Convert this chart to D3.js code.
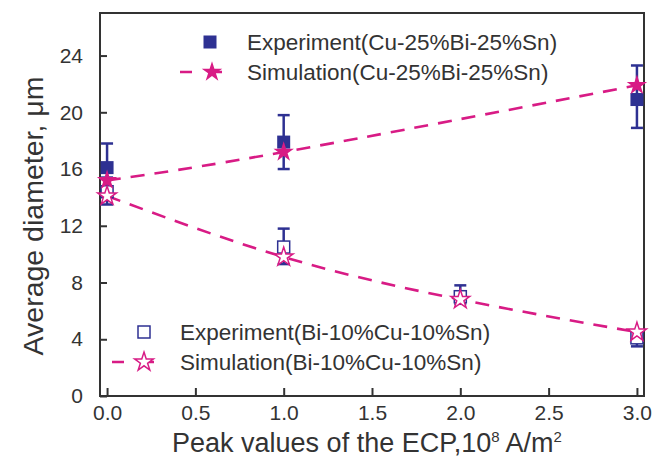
<!DOCTYPE html>
<html>
<head>
<meta charset="utf-8">
<script src="https://cdn.jsdelivr.net/npm/d3@7"></script>
<style>
  body { margin: 0; background: #fff; }
  text { font-family: "Liberation Sans", Arial, sans-serif; fill: #333; }
</style>
</head>
<body>
<script>
// data
const xTicks = [0, 0.5, 1, 1.5, 2, 2.5, 3];
const yTicks = [0, 4, 8, 12, 16, 20, 24];

const expCuX = [0, 1, 3];
const expCuY = [16.1, 17.9, 20.9];
const expCuHi = [17.8, 19.8, 23.3];
const expCuLo = [14.5, 16.0, 18.9];

const simCuX = [0, 1, 3];
const simCuY = [15.2, 17.2, 21.9];

const expBiX = [0, 1, 2, 3];
const expBiY = [14.4, 10.5, 7.0, 4.1];
const expBiHi = [15.4, 11.8, 7.8, 4.6];
const expBiLo = [13.5, 9.3, 6.5, 3.5];

const simBiX = [0, 1, 2, 3];
const simBiY = [14.1, 9.8, 6.8, 4.5];

const legendLabels = ["Experiment(Cu-25%Bi-25%Sn)", "Simulation(Cu-25%Bi-25%Sn)",
                      "Experiment(Bi-10%Cu-10%Sn)", "Simulation(Bi-10%Cu-10%Sn)"];

const navy = "#2e3192";
const pink = "#d81b85";

var w = 654, h = 460;
const svg = d3.select("body").append("svg").attr("width", w).attr("height", h);

const xScale = d3.scaleLinear().domain([-0.04, 3.04]).range([100, 644]);
const yScale = d3.scaleLinear().domain([0, 27]).range([396, 13]);

// frame
svg.append("rect")
  .attr("x", 100).attr("y", 13).attr("width", 544).attr("height", 383)
  .attr("fill", "none").attr("stroke", "#333").attr("stroke-width", 2);

// axes (inward ticks)
const xAxis = svg.append("g").attr("transform", "translate(0,396)")
  .call(d3.axisBottom(xScale).tickValues(xTicks).tickSize(-8).tickSizeOuter(0)
    .tickFormat(d3.format(".1f")).tickPadding(9));
const yAxis = svg.append("g").attr("transform", "translate(100,0)")
  .call(d3.axisLeft(yScale).tickValues(yTicks).tickSize(-7).tickSizeOuter(0).tickPadding(17));
[xAxis, yAxis].forEach(a => {
  a.select(".domain").remove();
  a.selectAll("line").attr("stroke", "#333").attr("stroke-width", 2);
  a.selectAll("text").style("font-size", "21px").attr("fill", "#333")
    .style("font-family", "Liberation Sans, Arial, sans-serif");
});

// axis titles
const xt = svg.append("text").attr("x", 367).attr("y", 452).attr("text-anchor", "middle")
  .style("font-size", "27px");
xt.append("tspan").text("Peak values of the ECP,10");
xt.append("tspan").attr("dy", -10).style("font-size", "15px").text("8");
xt.append("tspan").attr("dy", 10).text(" A/m");
xt.append("tspan").attr("dy", -10).style("font-size", "15px").text("2");

svg.append("text").attr("transform", "translate(43,216) rotate(-90)")
  .attr("text-anchor", "middle").style("font-size", "28.5px")
  .text("Average diameter, \u03bcm");

const star = d3.symbol().type(d3.symbolStar);

// dashed simulation curves
const line = d3.line().x(d => xScale(d[0])).y(d => yScale(d[1])).curve(d3.curveNatural);
[[simCuX, simCuY], [simBiX, simBiY]].forEach(([xs, ys]) => {
  svg.append("path").datum(xs.map((x, i) => [x, ys[i]]))
    .attr("d", line).attr("fill", "none").attr("stroke", pink)
    .attr("stroke-width", 2.6).attr("stroke-dasharray", "14,10");
});

// error bars
function errBars(xs, hi, lo) {
  const g = svg.append("g").attr("stroke", navy).attr("stroke-width", 2.5);
  xs.forEach((x, i) => {
    const cx = xScale(x);
    g.append("line").attr("x1", cx).attr("x2", cx).attr("y1", yScale(hi[i])).attr("y2", yScale(lo[i]));
    g.append("line").attr("x1", cx - 6).attr("x2", cx + 6).attr("y1", yScale(hi[i])).attr("y2", yScale(hi[i]));
    g.append("line").attr("x1", cx - 6).attr("x2", cx + 6).attr("y1", yScale(lo[i])).attr("y2", yScale(lo[i]));
  });
}
errBars(expBiX, expBiHi, expBiLo);
errBars(expCuX, expCuHi, expCuLo);

// open squares
svg.selectAll(".osq").data(expBiX).enter().append("rect")
  .attr("x", (d) => xScale(d) - 6).attr("y", (d, i) => yScale(expBiY[i]) - 6)
  .attr("width", 12).attr("height", 12)
  .attr("fill", "#fff").attr("stroke", navy).attr("stroke-width", 1.5);
// filled squares
svg.selectAll(".fsq").data(expCuX).enter().append("rect")
  .attr("x", (d) => xScale(d) - 6.5).attr("y", (d, i) => yScale(expCuY[i]) - 6.5)
  .attr("width", 13).attr("height", 13).attr("fill", navy);

// stars
svg.selectAll(".ostar").data(simBiX).enter().append("path")
  .attr("d", star.size(110)())
  .attr("transform", (d, i) => "translate(" + xScale(d) + "," + yScale(simBiY[i]) + ")")
  .attr("fill", "#fff").attr("stroke", pink).attr("stroke-width", 1.5);
svg.selectAll(".fstar").data(simCuX).enter().append("path")
  .attr("d", star.size(130)())
  .attr("transform", (d, i) => "translate(" + xScale(d) + "," + yScale(simCuY[i]) + ")")
  .attr("fill", pink);

// legends
function legendRow(mx, y, textX, label, kind) {
  if (kind === "fsq") {
    svg.append("rect").attr("x", mx - 6.5).attr("y", y - 6.5).attr("width", 13).attr("height", 13).attr("fill", navy);
  } else if (kind === "osq") {
    svg.append("rect").attr("x", mx - 6).attr("y", y - 6).attr("width", 12).attr("height", 12)
      .attr("fill", "#fff").attr("stroke", navy).attr("stroke-width", 1.5);
  } else {
    svg.append("line").attr("x1", mx - 32).attr("x2", mx + 20).attr("y1", y).attr("y2", y)
      .attr("stroke", pink).attr("stroke-width", 2.6).attr("stroke-dasharray", "12,18");
    const s = svg.append("path").attr("d", star.size(kind === "fstar" ? 130 : 110)())
      .attr("transform", "translate(" + mx + "," + y + ")");
    if (kind === "fstar") s.attr("fill", pink);
    else s.attr("fill", "#fff").attr("stroke", pink).attr("stroke-width", 1.5);
  }
  svg.append("text").attr("x", textX).attr("y", y + 8).style("font-size", "22.5px").text(label);
}
legendRow(210, 42, 247, legendLabels[0], "fsq");
legendRow(212, 72, 247, legendLabels[1], "fstar");
legendRow(144, 332, 180, legendLabels[2], "osq");
legendRow(144, 362, 180, legendLabels[3], "ostar");
</script>
</body>
</html>
